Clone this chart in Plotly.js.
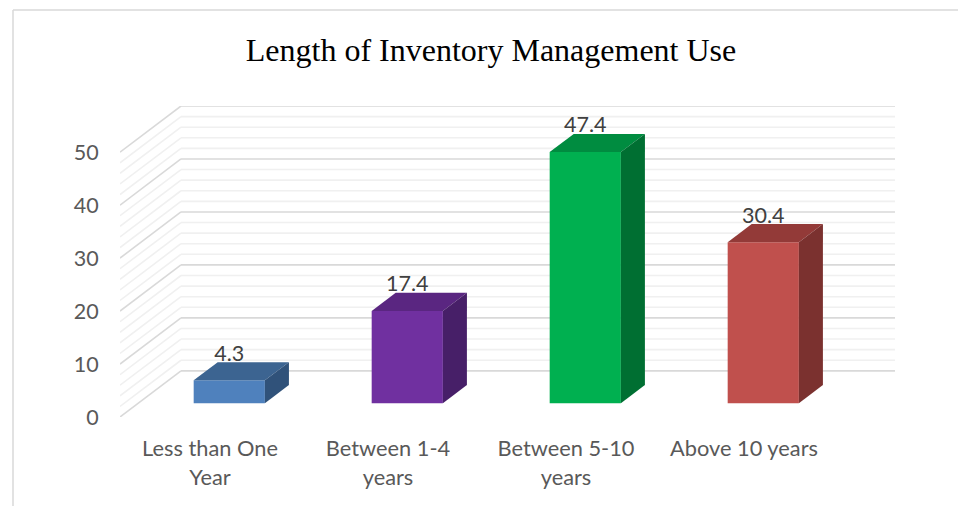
<!DOCTYPE html>
<html>
<head>
<meta charset="utf-8">
<script src="https://cdn.plot.ly/plotly-3.0.1.min.js"></script>
<style>html,body{margin:0;padding:0;background:#fff;overflow:hidden}#c{width:958px;height:506px}</style>
</head>
<body>
<div id="c"></div>
<script>
const categories = ['Less than One<br>Year', 'Between 1-4<br>years', 'Between 5-10<br>years', 'Above 10 years'];
const values = [4.3, 17.4, 47.4, 30.4];
const majorTicks = [0, 10, 20, 30, 40, 50];
const minorTicks = [2, 4, 6, 8, 12, 14, 16, 18, 22, 24, 26, 28, 32, 34, 36, 38, 42, 44, 46, 48];
const frontColors = ['#4f81bd', '#7030a0', '#00b050', '#c0504d'];
const topColors = ['#3c6491', '#5a2681', '#008c40', '#933a38'];
const sideColors = ['#30527a', '#471f68', '#006f32', '#7b312f'];

const W = 958, H = 506;
const pL = 120, pR = 895, pT = 106, pB = 417;
const catPx = 178, valPx = 5.3;
const xMin = (pL - 210) / catPx, xMax = (pR - 210) / catPx;
const DX = 61 / catPx, DY = 46.2 / valPx;
const yMax = 50 + DY;
const d0 = 0.30, d1 = 0.694, half = 0.2;
const barShift = 0.0055;
const idx = categories.map((_, i) => i);

const proj = (c, v, d) => [c + barShift + d * DX, v + d * DY];
const poly = (pts, color) => ({
  type: 'scatter', mode: 'lines', x: pts.map(p => p[0]), y: pts.map(p => p[1]),
  fill: 'toself', fillcolor: color, line: {width: 0, color: color},
  hoverinfo: 'skip', showlegend: false
});

const traces = [];
traces.push({
  type: 'bar', x: idx.map(i => i + barShift + d0 * DX), y: values, base: idx.map(() => d0 * DY),
  width: 0.4, marker: {color: frontColors, line: {width: 0}}, showlegend: false, hoverinfo: 'skip'
});
idx.forEach(i => {
  const v = values[i], l = i - half, r = i + half;
  traces.push(poly([proj(l, v, d0), proj(r, v, d0), proj(r, v, d1), proj(l, v, d1), proj(l, v, d0)], topColors[i]));
  traces.push(poly([proj(r, 0, d0), proj(r, v, d0), proj(r, v, d1), proj(r, 0, d1), proj(r, 0, d0)], sideColors[i]));
});
traces.push({
  type: 'scatter', mode: 'text', x: idx.map(i => i + barShift + d0 * DX),
  y: values.map(v => v + d0 * DY + 25 / valPx), text: values.map(String),
  textposition: 'middle center', textfont: {family: 'Lato, sans-serif', size: 21.5, color: '#404040'},
  hoverinfo: 'skip', showlegend: false, cliponaxis: false
});

const gridShapes = (ticks, color) => ticks.flatMap(t => {
  const a = [xMin + 0 * DX, t], b = [xMin + DX, t + DY];
  return [
    {type: 'line', layer: 'below', xref: 'x', yref: 'y', x0: a[0], y0: a[1], x1: b[0], y1: b[1], line: {color: color, width: 1.6}},
    {type: 'line', layer: 'below', xref: 'x', yref: 'y', x0: b[0], y0: b[1], x1: xMax, y1: b[1], line: {color: color, width: 1.6}}
  ];
});
const pxX = px => (px - pL) / (pR - pL);
const pxY = py => (pB - py) / (pB - pT);
const frame = [
  {type: 'line', layer: 'below', xref: 'paper', yref: 'paper', x0: pxX(13), y0: pxY(10), x1: pxX(W), y1: pxY(10), line: {color: '#d9d9d9', width: 1.5}},
  {type: 'line', layer: 'below', xref: 'paper', yref: 'paper', x0: pxX(13), y0: pxY(10), x1: pxX(13), y1: pxY(H), line: {color: '#d9d9d9', width: 1.5}}
];

const layout = {
  width: W, height: H, paper_bgcolor: '#fff', plot_bgcolor: 'rgba(0,0,0,0)',
  margin: {l: pL, r: W - pR, t: pT, b: H - pB, autoexpand: false},
  title: {text: 'Length of Inventory Management Use', x: 491 / W, xanchor: 'center', xref: 'container',
          y: 1 - 50 / H, yanchor: 'middle', yref: 'container',
          font: {family: '"Liberation Serif", serif', size: 32, color: '#000'}},
  showlegend: false,
  xaxis: {type: 'linear', range: [xMin, xMax], tickmode: 'array', tickvals: idx, ticktext: categories,
          showgrid: false, zeroline: false, showline: false, ticks: 'outside', ticklen: 12, tickcolor: 'rgba(0,0,0,0)',
          tickangle: 0, tickfont: {family: 'Lato, sans-serif', size: 21.8, color: '#595959'}, fixedrange: true},
  yaxis: {type: 'linear', range: [0, yMax], tickmode: 'array', tickvals: majorTicks, ticktext: majorTicks.map(String),
          showgrid: false, zeroline: false, showline: false, ticks: 'outside', ticklen: 16, tickcolor: 'rgba(0,0,0,0)',
          tickfont: {family: 'Lato, sans-serif', size: 21.5, color: '#595959'}, fixedrange: true},
  shapes: frame.concat(gridShapes(minorTicks, '#f0f0f0'), gridShapes(majorTicks, '#d9d9d9'))
};
Plotly.newPlot('c', traces, layout, {displayModeBar: false, staticPlot: true});
</script>
</body>
</html>
